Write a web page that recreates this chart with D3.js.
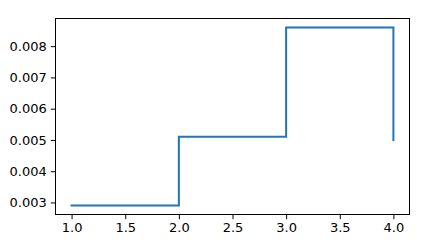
<!DOCTYPE html>
<html>
<head>
<meta charset="utf-8">
<title>step chart</title>
<style>
  body { margin: 0; background: #fff; }
  svg { display: block; }
  .tick text { font-family: "DejaVu Sans", sans-serif; font-size: 13px; fill: #000; }
</style>
<script src="https://d3js.org/d3.v7.min.js"></script>
</head>
<body>
<svg id="chart" width="439" height="241"></svg>
<script>
  const xs = [1, 2, 3, 4];
  const ys = [0.0029, 0.0051, 0.0086, 0.0050];
  const xTicks = [1.0, 1.5, 2.0, 2.5, 3.0, 3.5, 4.0];
  const yTicks = [0.003, 0.004, 0.005, 0.006, 0.007, 0.008];

  const plotLeft = 55.5, plotRight = 409.5, plotTop = 18.5, plotBottom = 214.5;
  const svg = d3.select("#chart");

  // matplotlib style 5% margins
  const pad = (lo, hi) => { const d = (hi - lo) * 0.05; return [lo - d, hi + d]; };
  const x = d3.scaleLinear().domain(pad(d3.min(xs), d3.max(xs))).range([plotLeft, plotRight]);
  const y = d3.scaleLinear().domain(pad(d3.min(ys), d3.max(ys))).range([plotBottom, plotTop]);

  const pts = xs.map((v, i) => [v, ys[i]]);
  const line = d3.line().x(d => x(d[0])).y(d => y(d[1])).curve(d3.curveStepAfter);

  svg.append("path")
    .datum(pts)
    .attr("d", line)
    .attr("fill", "none")
    .attr("stroke", "#1f77b4")
    .attr("stroke-width", 2)
    .attr("stroke-linecap", "square");

  const xAxis = svg.append("g")
    .attr("transform", `translate(0,${plotBottom})`)
    .call(d3.axisBottom(x).tickValues(xTicks).tickFormat(d3.format(".1f")).tickSize(4.7).tickPadding(4));
  const yAxis = svg.append("g")
    .attr("transform", `translate(${plotLeft},0)`)
    .call(d3.axisLeft(y).tickValues(yTicks).tickFormat(d3.format(".3f")).tickSize(4.7).tickPadding(4));

  [xAxis, yAxis].forEach(g => {
    g.select(".domain").remove();
    g.selectAll(".tick line").attr("stroke", "#000").attr("stroke-width", 1);
  });

  svg.append("rect")
    .attr("x", plotLeft).attr("y", plotTop)
    .attr("width", plotRight - plotLeft).attr("height", plotBottom - plotTop)
    .attr("fill", "none").attr("stroke", "#000").attr("stroke-width", 1);
</script>
</body>
</html>
